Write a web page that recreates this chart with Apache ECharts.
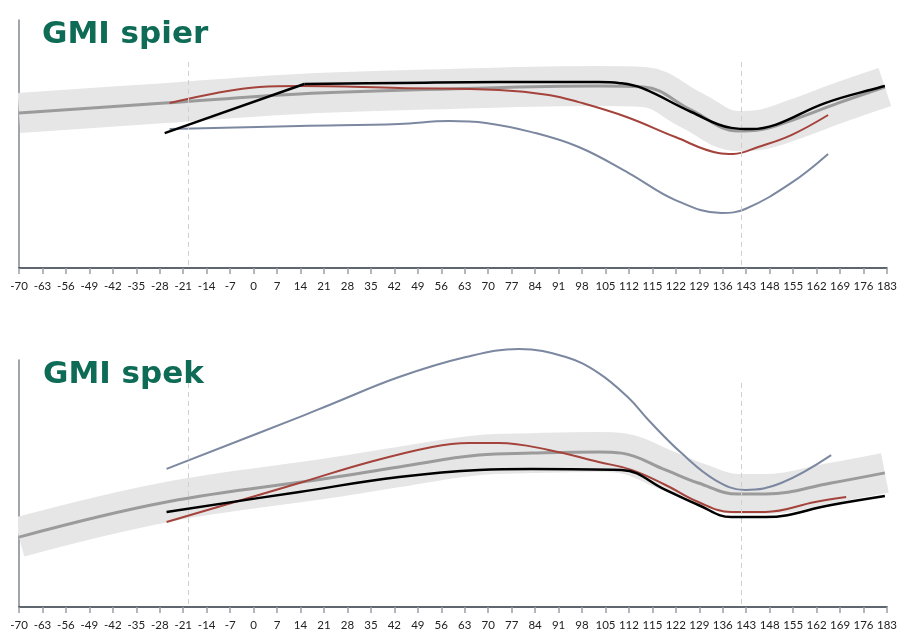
<!DOCTYPE html>
<html>
<head>
<meta charset="utf-8">
<script src="https://cdn.jsdelivr.net/npm/echarts@6/dist/echarts.min.js"></script>
<style>
html,body{margin:0;padding:0;background:#fff;}
#c{width:900px;height:634px;}
</style>
</head>
<body>
<div id="c"></div>
<script>
// x positions are label indices (0 = "-70" ... 37 = "183")
const xLabels = ['-70','-63','-56','-49','-42','-35','-28','-21','-14','-7','0','7','14','21','28','35','42','49','56','63','70','77','84','91','98','105','112','115','122','129','136','143','148','155','162','169','176','183'];
const refLines = [7.23, 30.79];

// Panel 1: GMI spier (y in relative units 0-100)
const spierRef = [[0,62.5],[6.21,66.5],[11.95,70.2],[18.33,72.2],[24.71,73.4],[26.62,73.0],[28.66,63.7],[30.66,55.2],[31.51,55.6],[33.21,60.5],[34.91,66.5],[36.91,73.0]];
const spierBlack = [[6.21,54.4],[12.16,74.2],[16.2,74.6],[20.46,75.0],[24.71,75.0],[25.56,74.6],[26.54,72.6],[28.66,62.9],[30.36,56.5],[31.21,56.0],[32.24,57.7],[34.36,66.5],[36.74,73.0],[36.91,73.4]];
const spierRed = [[6.42,66.5],[8.42,70.6],[10.25,73.0],[11.95,73.4],[16.2,72.6],[20.46,71.8],[22.58,69.8],[23.86,66.9],[25.9,60.9],[27.98,52.8],[29.81,46.4],[30.45,46.0],[31.51,48.8],[32.92,53.6],[34.49,61.7]];
const spierBlue = [[6.42,56.0],[11.95,57.3],[16.2,58.1],[18.33,59.3],[19.9,58.5],[21.86,54.8],[23.86,48.8],[25.99,38.3],[27.98,27.4],[29.94,22.2],[30.96,23.8],[32.92,34.3],[34.49,46.0]];

// Panel 2: GMI spek
const spekRef = [[0,28.3],[6.29,42.5],[13.23,52.2],[16.2,56.7],[19.61,61.5],[21.86,62.3],[24.71,62.8],[25.69,62.3],[27.56,55.5],[28.96,50.2],[30.66,45.7],[31.81,45.7],[34.62,50.2],[36.91,54.3]];
const spekBlack = [[6.29,38.5],[11.95,46.6],[16.2,52.6],[19.61,55.5],[21.86,55.9],[25.69,55.5],[27.56,47.4],[28.96,41.3],[30.36,36.4],[31.81,36.4],[34.62,41.3],[36.91,44.9]];
const spekRed = [[6.29,34.4],[11.95,50.2],[14.8,58.3],[17.61,64.8],[19.18,66.4],[20.46,66.4],[22.58,63.6],[24.71,58.7],[26.11,55.5],[27.56,49.4],[28.96,42.5],[30.36,38.5],[31.81,38.5],[33.94,42.5],[35.26,44.5]];
const spekBlue = [[6.29,55.9],[11.95,76.9],[13.23,81.8],[16.2,93.1],[19.05,101.2],[21.31,104.5],[23.31,101.2],[24.71,94.7],[25.99,84.6],[26.83,75.7],[28.24,62.3],[29.68,51.4],[30.96,47.4],[32.49,50.2],[34.62,61.5]];

const titles = ['GMI spier','GMI spek'];
const dashTop = [83.1, 90.7];

const C = {band:'#e6e6e6', ref:'#9b9b9b', black:'#000000', red:'#a4433b', blue:'#7b88a0', green:'#0e6b55'};
const font = 'Lato, "Open Sans", sans-serif';
const titleFont = '"DejaVu Sans", sans-serif';

function xAxis(i){
  return {type:'value', gridIndex:i, min:0, max:37, interval:1,
    axisLine:{show:true, onZero:false, lineStyle:{color:'#2b3440', width:1.5}},
    axisTick:{show:true, length:6, lineStyle:{color:'#9aa0a8', width:1.5}},
    splitLine:{show:false},
    axisLabel:{show:true, margin:12, color:'#222', fontSize:11.5, fontFamily:font, showMinLabel:true, showMaxLabel:true,
      formatter:v=>xLabels[Math.round(v)] ?? ''}};
}
function yAxis(i){
  return {type:'value', gridIndex:i, min:0, max:100,
    axisLine:{show:true, lineStyle:{color:'#80868f', width:1.5}},
    axisTick:{show:false}, axisLabel:{show:false}, splitLine:{show:false}};
}
function mk(i, data, color, width, z, extra){
  return Object.assign({type:'line', xAxisIndex:i, yAxisIndex:i, data:data, smooth:0.4,
    symbol:'none', silent:true, lineStyle:{color:color, width:width, cap:'butt'}, z:z}, extra||{});
}
function lines(i, ref, black, red, blue, splitBlack){
  const s = [];
  s.push(mk(i, ref, C.band, 40, 1, {markLine:{silent:true, symbol:'none', label:{show:false},
      lineStyle:{color:'#cfcfcf', type:[5,4], width:1},
      data: refLines.map(x=>[{coord:[x,dashTop[i]]},{coord:[x,0]}])}}));
  s.push(mk(i, ref, C.ref, 3, 2));
  s.push(mk(i, blue, C.blue, 2, 3, {clip:false}));
  s.push(mk(i, red, C.red, 2, 4));
  if(splitBlack){
    s.push(mk(i, black.slice(0,2), C.black, 2.5, 5, {smooth:false}));
    s.push(mk(i, black.slice(1), C.black, 2.5, 5));
  } else {
    s.push(mk(i, black, C.black, 2.5, 5));
  }
  return s;
}

const chart = echarts.init(document.getElementById('c'), null, {renderer:'canvas'});
chart.setOption({
  animation:false,
  title:[
    {text:titles[0], left:37, top:14, textStyle:{fontFamily:titleFont, fontSize:31, fontWeight:'bold', color:C.green}},
    {text:titles[1], left:38, top:354, textStyle:{fontFamily:titleFont, fontSize:31, fontWeight:'bold', color:C.green}}
  ],
  grid:[
    {left:19, right:11, top:20, height:248},
    {left:19, right:11, top:360, height:247}
  ],
  xAxis:[xAxis(0), xAxis(1)],
  yAxis:[yAxis(0), yAxis(1)],
  graphic:[
    {type:'rect', left:0, top:20, z:50, silent:true, shape:{width:18, height:247}, style:{fill:'#fff'}},
    {type:'rect', left:0, top:360, z:50, silent:true, shape:{width:18, height:246}, style:{fill:'#fff'}}
  ],
  series:[...lines(0, spierRef, spierBlack, spierRed, spierBlue, true), ...lines(1, spekRef, spekBlack, spekRed, spekBlue, false)]
});
</script>
</body>
</html>
